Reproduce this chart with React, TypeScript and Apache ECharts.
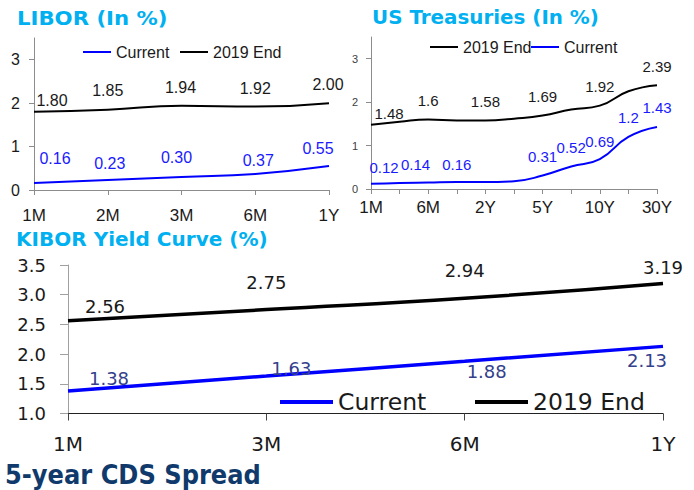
import React, { useEffect, useRef } from 'react';
import * as echarts from 'echarts';

// ---------- data ----------
const liborCats = ['1M', '2M', '3M', '6M', '1Y'];
const liborCurrent = [0.16, 0.23, 0.3, 0.37, 0.55];
const liborEnd2019 = [1.8, 1.85, 1.94, 1.92, 2.0];

const ustCats = ['1M', '3M', '6M', '1Y', '2Y', '3Y', '5Y', '7Y', '10Y', '20Y', '30Y'];
const ustCurrent = [0.12, 0.14, 0.15, 0.16, 0.16, 0.18, 0.31, 0.52, 0.69, 1.2, 1.43];
const ustEnd2019 = [1.48, 1.55, 1.6, 1.58, 1.58, 1.62, 1.69, 1.83, 1.92, 2.25, 2.39];
const ustCurrentLabeled = [0, 1, 3, 6, 7, 8, 9, 10];
const ustEndLabeled = [0, 2, 4, 6, 8, 10];

const kiborCats = ['1M', '3M', '6M', '1Y'];
const kiborCurrent = [1.38, 1.63, 1.88, 2.13];
const kiborEnd2019 = [2.56, 2.75, 2.94, 3.19];

const topYTicks = [0, 1, 2, 3];

// ---------- styling (label offsets relative to points) ----------
const liborCurOff = [[21, -25], [2, -17], [-5, -19], [3, -13], [-11, -18]];
const liborEndOff = [[18, -11], [0, -19], [-1, -18], [0, -18], [-1, -19]];
const ustCurOff: Record<number, number[]> = { 0: [13, -16], 1: [16, -18], 3: [0, -18], 6: [0, -19], 7: [0, -19], 8: [0, -18], 9: [0, -19], 10: [0, -19] };
const ustEndOff: Record<number, number[]> = { 0: [18, -11], 2: [0, -19], 4: [0, -19], 6: [0, -19], 8: [0, -19], 10: [0, -19] };
const kiborCurOff = [[41, -12], [25, -8], [22, 10], [-16, 14]];
const kiborEndOff = [[37, -14], [0, -27], [0, -28], [0, -16]];

const NARROW = "'Liberation Sans', Arial, sans-serif";
const WIDE = "'DejaVu Sans', Verdana, sans-serif";
const BLUE = '#0000ff';
const BLACK = '#000000';
const CYAN = '#00b0f0';
const AXIS_GRAY = '#8c8c8c';

function points(values: number[], shown: (i: number) => boolean, offs: (i: number) => number[], color: string, fontSize: number, fontFamily: string, fmt: (v: number) => string) {
  return values.map((v, i) => ({
    value: v,
    label: shown(i)
      ? { show: true, position: 'inside', offset: offs(i), color, fontSize, fontFamily, formatter: fmt(v) }
      : { show: false },
  }));
}

const f2 = (v: number) => v.toFixed(2);
const fRaw = (v: number) => String(v);

function lineSeries(name: string, idx: number, data: any[], color: string, width: number) {
  return {
    type: 'line',
    name,
    xAxisIndex: idx,
    yAxisIndex: idx,
    data,
    smooth: true,
    symbol: 'circle',
    symbolSize: 0,
    showSymbol: true,
    lineStyle: { color, width },
    itemStyle: { color },
    emphasis: { disabled: true },
    z: 3,
  };
}

function legendItem(name: string, left: number, top: number, w: number, h: number, fontSize: number, fontFamily: string) {
  return {
    data: [name],
    left,
    top,
    icon: 'rect',
    itemWidth: w,
    itemHeight: h,
    selectedMode: false,
    padding: 0,
    textStyle: { fontSize, fontFamily, color: '#1a1a1a' },
  };
}

export default function App() {
  const ref = useRef<HTMLDivElement>(null);

  useEffect(() => {
    if (!ref.current) return;
    const chart = echarts.init(ref.current, undefined, { renderer: 'svg' });

    const topXAxis = (idx: number, cats: string[], margin: number, labelInterval: number) => ({
      gridIndex: idx,
      type: 'category',
      data: cats,
      boundaryGap: false,
      axisLine: { show: true, lineStyle: { color: AXIS_GRAY, width: 1 } },
      axisTick: { show: true, interval: 0, length: 5, lineStyle: { color: AXIS_GRAY } },
      axisLabel: { interval: labelInterval, color: '#1a1a1a', fontSize: 17, fontFamily: NARROW, margin },
      splitLine: { show: false },
    });

    const topYAxis = (idx: number, fontSize: number, color: string, margin: number) => ({
      gridIndex: idx,
      type: 'value',
      min: 0,
      max: 3.5,
      interval: 1,
      splitLine: { show: false },
      axisLine: { show: true, lineStyle: { color: AXIS_GRAY, width: 1 } },
      axisTick: { show: true, length: 5, customValues: topYTicks, lineStyle: { color: AXIS_GRAY } },
      axisLabel: { customValues: topYTicks, color, fontSize, fontFamily: NARROW, margin },
    });

    const option: any = {
      animation: false,
      backgroundColor: '#ffffff',
      grid: [
        { left: 34, top: 38, width: 295, height: 152, containLabel: false, outerBoundsMode: 'none' },
        { left: 371, top: 37, width: 286, height: 152, containLabel: false, outerBoundsMode: 'none' },
        { left: 68, top: 265, width: 595, height: 148.5, containLabel: false, outerBoundsMode: 'none' },
      ],
      xAxis: [
        topXAxis(0, liborCats, 17, 0),
        topXAxis(1, ustCats, 10, 1),
        {
          gridIndex: 2,
          type: 'category',
          data: kiborCats,
          boundaryGap: false,
          axisLine: { show: true, lineStyle: { color: '#222222', width: 1 } },
          axisTick: { show: true, interval: 0, length: 7, lineStyle: { color: '#444444' } },
          axisLabel: { color: '#1a1a1a', fontSize: 20, fontFamily: WIDE, margin: 20 },
          splitLine: { show: false },
        },
      ],
      yAxis: [
        topYAxis(0, 16, '#1a1a1a', 14),
        topYAxis(1, 11, '#404040', 13),
        {
          gridIndex: 2,
          type: 'value',
          min: 1,
          max: 3.5,
          interval: 0.5,
          splitLine: { show: false },
          axisLine: { show: true, lineStyle: { color: '#a0a0a0', width: 1 } },
          axisTick: { show: true, length: 8, lineStyle: { color: '#a0a0a0' } },
          axisLabel: { color: '#1a1a1a', fontSize: 18, fontFamily: WIDE, margin: 22, formatter: (v: number) => v.toFixed(1) },
        },
      ],
      legend: [
        legendItem('Current', 83, 44, 28, 2, 16, NARROW),
        legendItem('2019 End', 180, 44, 28, 2, 16, NARROW),
        legendItem('2019 End', 430, 39, 28, 2, 16, NARROW),
        legendItem('Current', 531, 39, 28, 2, 16, NARROW),
        legendItem('Current', 280, 390, 53, 4, 23.5, WIDE),
        legendItem('2019 End', 475, 390, 53, 4, 23.5, WIDE),
      ],
      graphic: [
        { type: 'text', x: 17, y: 18, scaleX: 1.09, style: { text: 'LIBOR (In %)', fontSize: 19.5, fontWeight: 'bold', fontFamily: WIDE, fill: CYAN, verticalAlign: 'middle' } },
        { type: 'text', x: 372, y: 18, scaleX: 1.02, style: { text: 'US Treasuries (In %)', fontSize: 19.5, fontWeight: 'bold', fontFamily: WIDE, fill: CYAN, verticalAlign: 'middle' } },
        { type: 'text', x: 16, y: 240, scaleX: 1.055, style: { text: 'KIBOR Yield Curve (%)', fontSize: 19, fontWeight: 'bold', fontFamily: WIDE, fill: CYAN, verticalAlign: 'middle' } },
        { type: 'text', x: 5, y: 475, scaleX: 0.93, style: { text: '5-year CDS Spread', fontSize: 26, fontWeight: 'bold', fontFamily: WIDE, fill: '#103a6b', verticalAlign: 'middle' } },
      ],
      series: [
        lineSeries('Current', 0, points(liborCurrent, () => true, (i) => liborCurOff[i], '#1a1aff', 16, NARROW, f2), BLUE, 2),
        lineSeries('2019 End', 0, points(liborEnd2019, () => true, (i) => liborEndOff[i], '#1a1a1a', 16, NARROW, f2), BLACK, 2),
        lineSeries('2019 End', 1, points(ustEnd2019, (i) => ustEndLabeled.includes(i), (i) => ustEndOff[i] || [0, -19], '#1a1a1a', 15, NARROW, fRaw), BLACK, 2),
        lineSeries('Current', 1, points(ustCurrent, (i) => ustCurrentLabeled.includes(i), (i) => ustCurOff[i] || [0, -19], '#1a1aff', 15, NARROW, fRaw), BLUE, 2),
        lineSeries('Current', 2, points(kiborCurrent, () => true, (i) => kiborCurOff[i], '#33408c', 18, WIDE, f2), BLUE, 3.5),
        lineSeries('2019 End', 2, points(kiborEnd2019, () => true, (i) => kiborEndOff[i], '#1a1a1a', 18, WIDE, f2), BLACK, 3.5),
      ],
    };

    chart.setOption(option);
    return () => chart.dispose();
  }, []);

  return (
    <div
      ref={ref}
      style={{ position: 'absolute', left: 0, top: 0, width: 694, height: 490, background: '#ffffff' }}
    />
  );
}
